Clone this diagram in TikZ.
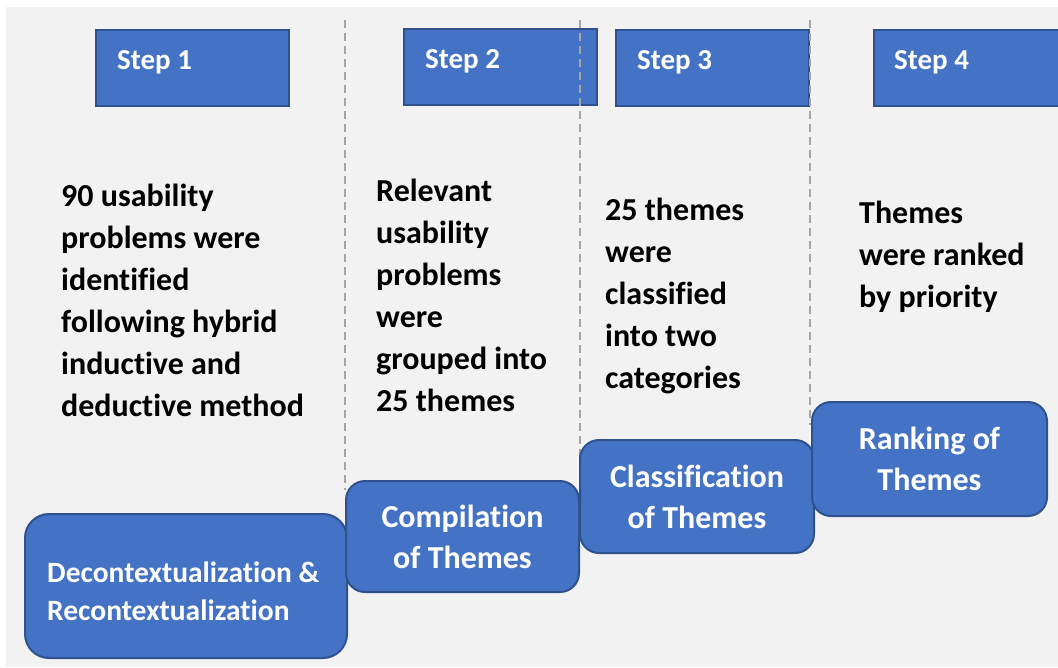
\documentclass[tikz,border=0pt]{standalone}
\usepackage{fontspec}
\setmainfont{Carlito}[Ligatures=CommonOff]
\definecolor{bgpanel}{HTML}{F2F2F2}
\definecolor{boxfill}{HTML}{4472C4}
\definecolor{boxedge}{HTML}{2F528F}
\definecolor{divgray}{HTML}{A5A5A5}
\newcommand{\bodyfont}{\fontsize{32pt}{42pt}\selectfont\bfseries}
\newcommand{\headfont}{\fontsize{29pt}{35pt}\selectfont\bfseries}
\newcommand{\phasefont}{\fontsize{32pt}{41pt}\selectfont\bfseries}
\newcommand{\widefont}{\fontsize{29.5pt}{38pt}\selectfont\bfseries}
\tikzset{
  stepbox/.style={draw=boxedge, fill=boxfill, line width=2pt, inner sep=0pt,
    anchor=north west, minimum width=193pt, minimum height=76pt},
  steplabel/.style={text=white, font=\headfont, anchor=base west, inner sep=0pt},
  bodytext/.style={text=black, font=\bodyfont, anchor=base west, align=left, inner sep=0pt},
  phasebox/.style={draw=boxedge, fill=boxfill, line width=2pt, inner sep=0pt,
    rounded corners=19pt},
  phaselabel/.style={text=white, font=\phasefont, anchor=base, align=center, inner sep=0pt},
  divider/.style={draw=divgray, line width=1.5pt, dash pattern=on 8pt off 5pt}
}
\begin{document}
\begin{tikzpicture}[x=1pt, y=-1pt]
  % page frame and grey panel
  \clip (0,0) rectangle (1058,667);
  \fill[white] (0,0) rectangle (1058,667);
  \fill[bgpanel] (6,7) rectangle (1058,667);

  % step headers
  \node[stepbox] (s1) at (95,29) {};
  \node[stepbox] (s2) at (403,28) {};
  \node[stepbox] (s3) at (615,29) {};
  \node[stepbox] (s4) at (873,29) {};
  \node[steplabel] (s1t) at (117,69) {Step 1};
  \node[steplabel] (s2t) at (425,68) {Step 2};
  \node[steplabel] (s3t) at (637,69) {Step 3};
  \node[steplabel] (s4t) at (894,69) {Step 4};

  % dashed column separators
  \coordinate (d1a) at (345,20);  \coordinate (d1b) at (345,490);
  \coordinate (d2a) at (580,20);  \coordinate (d2b) at (580,492);
  \coordinate (d3a) at (810,20);  \coordinate (d3b) at (810,425);
  \draw[divider] (d1a) -- (d1b);
  \draw[divider] (d2a) -- (d2b);
  \draw[divider] (d3a) -- (d3b);

  % step descriptions (anchored on the baseline of their last line)
  \node[bodytext] (b1) at (61,416) {90 usability\\problems were\\identified\\following hybrid\\inductive and\\deductive method};
  \node[bodytext] (b2) at (376,411) {Relevant\\usability\\problems\\were\\grouped into\\25 themes};
  \node[bodytext] (b3) at (605,388) {25 themes\\were\\classified\\into two\\categories};
  \node[bodytext] (b4) at (859,307) {Themes\\were ranked\\by priority};

  % phase boxes
  \node[phasebox, rounded corners=24pt, minimum width=322pt, minimum height=144pt] (p1) at (186,586) {};
  \node[phasebox, minimum width=233pt, minimum height=111pt] (p2) at (462.5,536.5) {};
  \node[phasebox, minimum width=234pt, minimum height=113pt] (p3) at (697,496.5) {};
  \node[phasebox, minimum width=235pt, minimum height=114pt] (p4) at (929.5,459) {};

  \node[text=white, font=\widefont, anchor=base west, align=left, inner sep=0pt] (p1t) at (47,620) {Decontextualization \&\\Recontextualization};
  \node[phaselabel] (p2t) at (462.5,568) {Compilation\\of Themes};
  \node[phaselabel] (p3t) at (697,528) {Classification\\of Themes};
  \node[phaselabel] (p4t) at (929.5,490) {Ranking of\\Themes};
\end{tikzpicture}
\end{document}
